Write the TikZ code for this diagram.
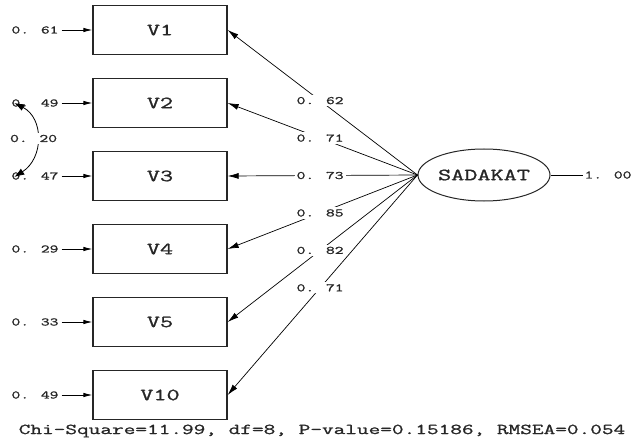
\documentclass[tikz,border=0pt]{standalone}
\usepackage{fontspec}
\usetikzlibrary{shapes.geometric,arrows.meta}
\newfontfamily\lmono[FakeStretch=1.5,FakeBold=1.2]{Latin Modern Mono}
\begin{document}
\begin{tikzpicture}[x=1pt,y=-1pt,
  obs/.style={draw=black!85,line width=1.3pt,minimum width=134pt,minimum height=49pt,inner sep=0pt,font=\lmono\fontsize{17}{17}\selectfont,text=black!85},
  lat/.style={draw=black!85,line width=1pt,ellipse,minimum width=132pt,minimum height=52pt,inner sep=0pt,font=\lmono\fontsize{17}{17}\selectfont,text=black!85},
  num/.style={inner sep=1pt,font=\lmono\fontsize{11.4}{11.4}\selectfont,text=black!85},
  lbl/.style={num,fill=white,inner sep=2pt},
  errarr/.style={line width=0.8pt,-{Latex[length=9pt,width=4.5pt]}},
  patharr/.style={line width=0.7pt,-{Latex[length=11pt,width=6pt]}},
  covarr/.style={line width=0.8pt,{Latex[length=10pt,width=7pt]}-{Latex[length=10pt,width=7pt]}}
]
\useasboundingbox (0,0) rectangle (637,441);
% observed variables
\node[obs] (V1) at (160,30) {V1};
\node[obs] (V2) at (160,103) {V2};
\node[obs] (V3) at (160,176) {V3};
\node[obs] (V4) at (160,249) {V4};
\node[obs] (V5) at (160,322) {V5};
\node[obs] (V10) at (160,395) {V10};
% latent
\node[lat] (S) at (484,175) {SADAKAT};
% error terms
\node[num] (e1) at (35,30) {0. 61};
\node[num] (e2) at (35,103) {0. 49};
\node[num] (e3) at (35,176) {0. 47};
\node[num] (e4) at (35,249) {0. 29};
\node[num] (e5) at (35,322) {0. 33};
\node[num] (e10) at (35,395) {0. 49};
\foreach \e/\v in {e1/V1,e2/V2,e3/V3,e4/V4,e5/V5,e10/V10}
  \draw[errarr] ([xshift=2pt]\e.east) -- (\v.west);
% loadings
\draw[patharr] (S.west) -- node[lbl,pos=0.513]{0. 62} (V1.east);
\draw[patharr] (S.west) -- node[lbl,pos=0.513]{0. 71} (V2.east);
\draw[patharr] (S.west) -- node[lbl,pos=0.513]{0. 73} (V3.east);
\draw[patharr] (S.west) -- node[lbl,pos=0.513]{0. 85} (V4.east);
\draw[patharr] (S.west) -- node[lbl,pos=0.513]{0. 82} (V5.east);
\draw[patharr] (S.west) -- node[lbl,pos=0.513]{0. 71} (V10.east);
% latent variance
\node[num] (u) at (608,175) {1. 00};
\draw[line width=0.8pt] (S.east) -- (u.west);
% covariance
\coordinate (c2) at ([xshift=4pt,yshift=0pt]e2.west);
\coordinate (c3) at ([xshift=4pt,yshift=-1pt]e3.west);
\draw[covarr] (c2) .. controls (44,118) and (44,158) .. node[lbl,pos=0.5,xshift=-3pt]{0. 20} (c3);
% fit statistics
\node[inner sep=0pt,font=\lmono\fontsize{15.1}{15.1}\selectfont,text=black!85] (fit) at (322,431) {Chi-Square=11.99, df=8, P-value=0.15186, RMSEA=0.054};
\end{tikzpicture}
\end{document}
